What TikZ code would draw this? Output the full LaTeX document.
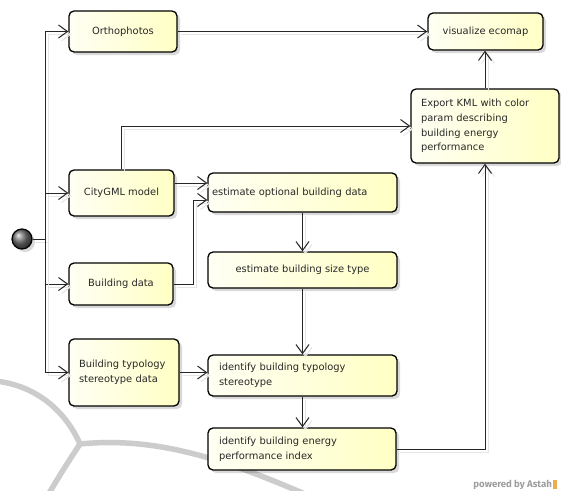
\documentclass[tikz,border=0pt]{standalone}
\usepackage{fontspec}
\setmainfont{DejaVu Sans}
\newfontfamily\wmfont{Fira Sans}
\usetikzlibrary{arrows.meta,shadows,calc}
\definecolor{boxL}{RGB}{255,255,244}
\definecolor{boxR}{RGB}{255,255,196}
\definecolor{txt}{RGB}{40,40,40}
\definecolor{wm}{RGB}{204,204,204}
\definecolor{astah}{RGB}{240,170,80}
\begin{document}
\begin{tikzpicture}[x=1pt,y=-1pt,
  act/.style={draw=black, line width=1.3pt, rounded corners=5pt,
    left color=boxL, right color=boxR,
    drop shadow={shadow xshift=3pt,shadow yshift=-3pt,fill=black,opacity=0.15},
    text=txt, font=\fontsize{9.9pt}{14.6pt}\selectfont, inner sep=0pt},
  conn/.style={draw=black!85, line width=1pt,
    preaction={draw=black!10, line width=1pt, transform canvas={shift={(3pt,-3pt)}}}},
  flow/.style={conn, -{Straight Barb[length=9pt,width=13pt]}},
  wmline/.style={draw=wm, line width=5.5pt, line cap=round}
]
\useasboundingbox[fill=white] (0,0) rectangle (561,490);

% watermark
\draw[wmline] (-5,381) .. controls (35,385) and (65,410) .. (80,444);
\draw[wmline] (80,444) .. controls (160,436) and (230,462) .. (305,494);
\draw[wmline] (80,444) .. controls (68,462) and (58,478) .. (48,495);

% coordinates
\coordinate (bus) at (45,239);
\coordinate (c183) at (0,183);
\coordinate (bend1) at (193,200);

% nodes
\node[circle, draw=black, line width=1.2pt, inner sep=0pt, minimum size=20pt,
  ball color=black!55, drop shadow={shadow xshift=3pt,shadow yshift=-3pt,fill=black,opacity=0.15}] (start) at (22,239) {};

\node[act, minimum width=108pt, minimum height=41pt, align=center] (ortho) at (123,31.5) {Orthophotos};
\node[act, minimum width=105pt, minimum height=46pt, align=center] (city) at (121.5,193) {CityGML model};
\node[act, minimum width=104pt, minimum height=42pt, align=center] (bdata) at (121,284) {Building data};
\node[act, minimum width=110pt, minimum height=67pt, inner xsep=10pt, text width=90pt, align=left] (typo) at (124,372.5) {Building typology\\stereotype data};

\node[act, minimum width=189pt, minimum height=39pt, inner xsep=4pt, text width=181pt, align=left] (estopt) at (302.5,192.5) {estimate optional building data};
\node[act, minimum width=189pt, minimum height=36pt, align=center] (estsize) at (302.5,270) {estimate building size type};
\node[act, minimum width=189pt, minimum height=41pt, inner xsep=11pt, text width=167pt, align=left] (idtyp) at (302.5,375.5) {identify building typology\\stereotype};
\node[act, minimum width=188pt, minimum height=42pt, inner xsep=11pt, text width=166pt, align=left] (iden) at (302,449) {identify building energy\\performance index};

\node[act, minimum width=115pt, minimum height=37pt, align=center] (vis) at (485.5,31.5) {visualize ecomap};
\node[act, minimum width=148pt, minimum height=74pt, inner xsep=10pt, text width=128pt, align=left] (kml) at (485,126) {Export KML with color\\param describing\\building energy\\performance};

% connectors
\draw[conn] (start) -- (bus);
\draw[flow] (bus) |- (ortho);
\draw[flow] (bus) |- (city);
\draw[flow] (bus) |- (bdata);
\draw[flow] (bus) |- (typo);
\draw[flow] (ortho) -- (vis);
\draw[flow] (city.north) |- (kml);
\draw[flow] (city.east |- c183) -- (estopt.west |- c183);
\draw[flow] (bdata.east) -| (bend1) -- (estopt.west |- bend1);
\draw[flow] (estopt) -- (estsize);
\draw[flow] (estsize) -- (idtyp);
\draw[flow] (typo.east) -- (typo.east -| idtyp.west);
\draw[flow] (idtyp.south) -- (idtyp.south |- iden.north);
\draw[flow] (iden.east) -| (kml.south);
\draw[flow] (kml.north) -- (kml.north |- vis.south);

% footer
\node[font=\wmfont\bfseries\fontsize{9.6pt}{11pt}\selectfont, text=black!38, inner sep=0pt, anchor=east] (pw) at (552,485) {powered by Astah};
\node[fill=astah, inner sep=0pt, minimum width=4pt, minimum height=9pt, anchor=west] (logo) at (553,484) {};
\end{tikzpicture}
\end{document}
